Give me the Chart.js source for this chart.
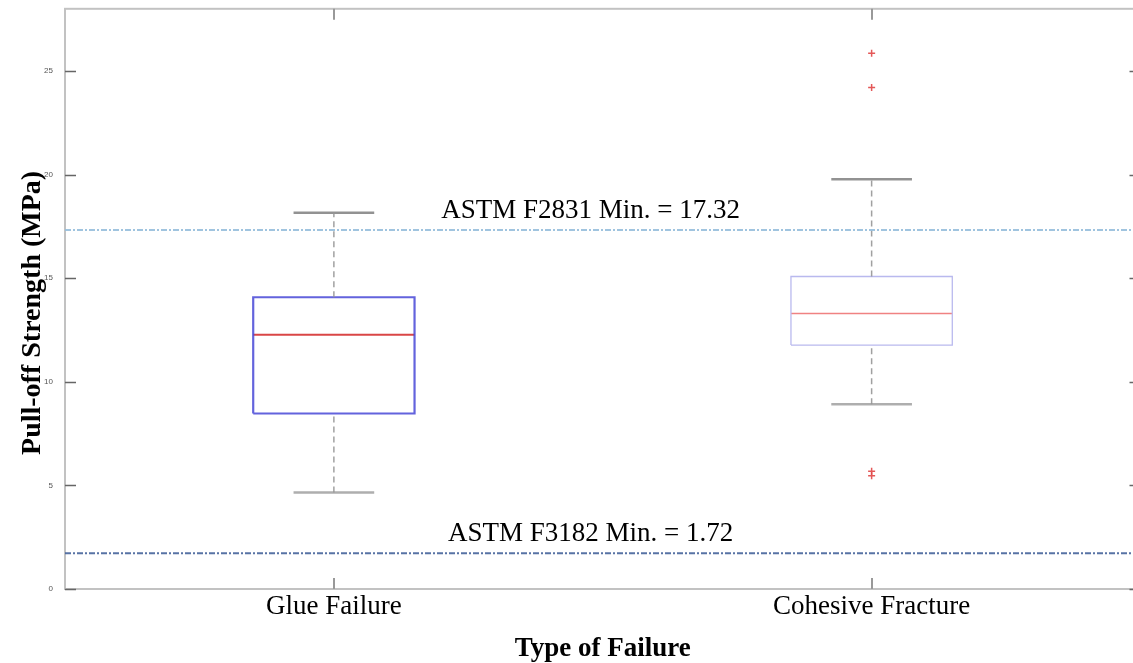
<!DOCTYPE html>
<html>
<head>
<meta charset="utf-8">
<script src="https://cdn.jsdelivr.net/npm/chart.js"></script>
<style>
  html, body { margin: 0; padding: 0; background: #fff; overflow: hidden; }
  #wrap { position: relative; width: 1146px; height: 663px; }
</style>
</head>
<body>
<div id="wrap"><canvas id="myChart"></canvas></div>
<script>
// data
const categories = ['Glue Failure', 'Cohesive Fracture'];
const whiskerLow = [4.66, 8.91];
const q1 = [8.47, 11.77];
const median = [12.27, 13.30];
const q3 = [14.08, 15.08];
const whiskerHigh = [18.16, 19.77];
const outliers = [[], [25.86, 24.20, 5.68, 5.47]];
const limitNames = ['ASTM F2831 Min.', 'ASTM F3182 Min.'];
const limitValues = [17.32, 1.72];
const yTicks = [0, 5, 10, 15, 20, 25];

// styles
const boxColors = ['rgba(72,72,215,0.85)', 'rgba(185,185,238,1)'];
const boxWidths = [2.2, 1.3];
const medianColors = ['rgba(215,60,60,0.95)', 'rgba(240,130,130,1)'];
const medianWidths = [2, 1.5];
const limitColors = ['rgba(150,190,220,0.9)', 'rgba(70,100,155,0.9)'];
const serif = 'Liberation Serif';
const halfBox = 0.3;
const halfCap = 0.15;

function catX(i) { return i * 2 + 1; }

function seg(points, color, width, dash) {
  return {
    data: points,
    showLine: true,
    borderColor: color,
    borderWidth: width,
    borderDash: dash || [],
    pointRadius: 0,
    fill: false,
    tension: 0
  };
}

const datasets = [];

// limit lines first so the boxes sit on top
for (let i = 0; i < limitValues.length; i++) {
  datasets.push(seg([{ x: 0, y: limitValues[i] }, { x: 4, y: limitValues[i] }], limitColors[i], 2, [6, 2, 2, 2]));
}

for (let i = 0; i < categories.length; i++) {
  const x = catX(i);
  // whiskers
  datasets.push(seg([{ x: x, y: q3[i] }, { x: x, y: whiskerHigh[i] }], 'rgba(150,150,150,0.9)', 1.5, [6, 4]));
  datasets.push(seg([{ x: x, y: whiskerLow[i] }, { x: x, y: q1[i] }], 'rgba(150,150,150,0.9)', 1.5, [6, 4]));
  datasets.push(seg([{ x: x - halfCap, y: whiskerHigh[i] }, { x: x + halfCap, y: whiskerHigh[i] }], 'rgba(140,140,140,0.95)', 2.5));
  datasets.push(seg([{ x: x - halfCap, y: whiskerLow[i] }, { x: x + halfCap, y: whiskerLow[i] }], 'rgba(170,170,170,0.95)', 2.5));
  // box
  datasets.push(seg([
    { x: x - halfBox, y: q1[i] }, { x: x + halfBox, y: q1[i] },
    { x: x + halfBox, y: q3[i] }, { x: x - halfBox, y: q3[i] },
    { x: x - halfBox, y: q1[i] }
  ], boxColors[i], boxWidths[i]));
  // median
  datasets.push(seg([{ x: x - halfBox, y: median[i] }, { x: x + halfBox, y: median[i] }], medianColors[i], medianWidths[i]));
  // outliers
  if (outliers[i].length) {
    datasets.push({
      data: outliers[i].map(v => ({ x: x, y: v })),
      showLine: false,
      pointStyle: 'cross',
      pointRadius: 3.5,
      borderColor: 'rgba(225,70,70,0.9)',
      borderWidth: 1.5
    });
  }
}

// frame, inward ticks on all four sides, and the limit labels
const framePlugin = {
  id: 'frame',
  beforeDatasetsDraw(chart) {
    const { ctx, chartArea: a } = chart;
    ctx.save();
    ctx.strokeStyle = '#c2c2c2';
    ctx.lineWidth = 2;
    ctx.strokeRect(a.left, a.top, a.right - a.left, a.bottom - a.top);
    ctx.restore();
  },
  afterDatasetsDraw(chart) {
    const { ctx, chartArea: a, scales } = chart;
    ctx.save();
    ctx.lineWidth = 1.5;
    ctx.strokeStyle = '#666';
    yTicks.forEach(v => {
      const y = Math.round(scales.y.getPixelForValue(v)) + 0.5;
      ctx.beginPath();
      ctx.moveTo(a.left, y); ctx.lineTo(a.left + 11, y);
      ctx.moveTo(a.right, y); ctx.lineTo(a.right - 11, y);
      ctx.stroke();
    });
    ctx.strokeStyle = '#999';
    ctx.lineWidth = 2;
    categories.forEach((c, i) => {
      const x = Math.round(scales.x.getPixelForValue(catX(i)));
      ctx.beginPath();
      ctx.moveTo(x, a.bottom); ctx.lineTo(x, a.bottom - 11);
      ctx.moveTo(x, a.top); ctx.lineTo(x, a.top + 11);
      ctx.stroke();
    });
    ctx.fillStyle = '#000';
    ctx.font = '27px "' + serif + '"';
    ctx.textAlign = 'center';
    ctx.textBaseline = 'alphabetic';
    limitValues.forEach((v, i) => {
      const x = scales.x.getPixelForValue(1.955);
      const y = scales.y.getPixelForValue(v) - 12;
      ctx.fillText(limitNames[i] + ' = ' + v, x, y);
    });
    ctx.restore();
  }
};

new Chart(document.getElementById('myChart'), {
  type: 'scatter',
  data: { datasets: datasets },
  options: {
    responsive: true,
    maintainAspectRatio: false,
    animation: false,
    layout: { padding: { top: 8, right: 1, left: 0, bottom: 0 } },
    plugins: { legend: { display: false }, tooltip: { enabled: false } },
    scales: {
      x: {
        type: 'linear',
        min: 0,
        max: 4,
        afterBuildTicks: s => { s.ticks = categories.map((c, i) => ({ value: catX(i) })); },
        ticks: {
          callback: (v, idx) => categories[idx],
          font: { family: serif, size: 27 },
          color: '#000',
          padding: -6,
          maxRotation: 0,
          autoSkip: false
        },
        grid: { display: false },
        border: { display: false },
        title: {
          display: true,
          text: 'Type of Failure',
          font: { family: serif, size: 27, weight: 'bold' },
          color: '#000',
          padding: { top: 0, bottom: -2 }
        },
        afterFit: s => { s.height = 74; }
      },
      y: {
        min: 0,
        max: 28,
        afterBuildTicks: s => { s.ticks = yTicks.map(v => ({ value: v })); },
        ticks: {
          font: { family: 'Liberation Sans', size: 8 },
          color: '#555',
          padding: 4
        },
        grid: { display: false },
        border: { display: false },
        title: {
          display: true,
          // trailing spaces push the visible words a little below the axis centre, as in the figure
          text: 'Pull-off Strength (MPa)    ',
          font: { family: serif, size: 28, weight: 'bold' },
          color: '#000',
          padding: { top: 16, bottom: 0 }
        },
        afterFit: s => { s.width = 65; }
      }
    }
  },
  plugins: [framePlugin]
});
</script>
</body>
</html>
